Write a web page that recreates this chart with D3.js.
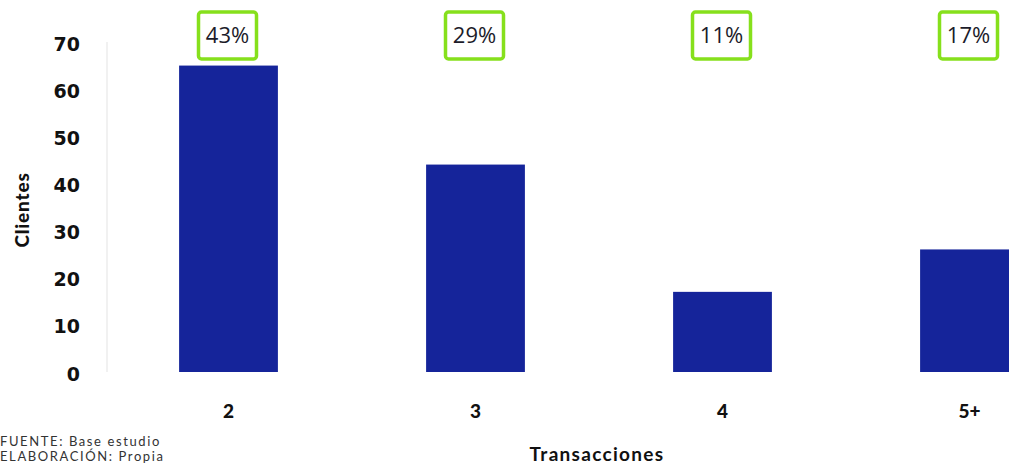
<!DOCTYPE html>
<html>
<head>
<meta charset="utf-8">
<script src="https://cdn.jsdelivr.net/npm/d3@7"></script>
<style>
  html, body { margin: 0; padding: 0; background: #fff; overflow: hidden; }
  svg { display: block; }
</style>
</head>
<body>
<svg id="chart" width="1009" height="464"></svg>
<script>
// Clientes por número de transacciones
const categories = ["2", "3", "4", "5+"];
const clientes = [65, 44, 17, 26];
const shareLabels = ["43%", "29%", "11%", "17%"];
const yTicks = [0, 10, 20, 30, 40, 50, 60, 70];

const svg = d3.select("#chart");

const x = d3.scaleBand()
  .domain(categories)
  .range([105, 1093])
  .paddingInner(0.6)
  .paddingOuter(0.3);

const y = d3.scaleLinear()
  .domain([0, 70])
  .range([372, 42]);

// faint vertical axis line
svg.append("line")
  .attr("x1", 107).attr("x2", 107)
  .attr("y1", y(70)).attr("y2", y(0))
  .attr("stroke", "#f1f1f1")
  .attr("stroke-width", 2);

// y tick labels
const yAxis = d3.axisLeft(y).tickValues(yTicks).tickSize(0).tickPadding(0);
const gy = svg.append("g")
  .attr("transform", "translate(80,2)")
  .call(yAxis);
gy.select(".domain").remove();
gy.selectAll("text")
  .attr("font-family", "DejaVu Sans, sans-serif")
  .attr("font-weight", "bold")
  .attr("font-size", 19)
  .attr("fill", "#111");

// bars
svg.append("g").selectAll("rect")
  .data(categories)
  .join("rect")
  .attr("x", d => x(d))
  .attr("width", x.bandwidth())
  .attr("y", (d, i) => y(clientes[i]))
  .attr("height", (d, i) => y(0) - y(clientes[i]))
  .attr("fill", "#15249a");

// x tick labels
const xAxis = d3.axisBottom(x).tickSize(0).tickPadding(0);
const gx = svg.append("g")
  .attr("transform", "translate(0,418)")
  .call(xAxis);
gx.select(".domain").remove();
gx.selectAll("text")
  .attr("dy", 0)
  .attr("font-family", "Lato, 'Open Sans', sans-serif")
  .attr("font-weight", "900")
  .attr("font-size", 19)
  .attr("fill", "#111");

// share boxes above each bar
const boxes = svg.append("g").selectAll("g")
  .data(categories)
  .join("g")
  .attr("transform", d => `translate(${x(d) + x.bandwidth() / 2 - 1},35)`);
boxes.append("rect")
  .attr("x", -29).attr("y", -23)
  .attr("width", 58).attr("height", 47)
  .attr("rx", 3)
  .attr("fill", "#fff")
  .attr("stroke", "#86e01c")
  .attr("stroke-width", 3.5);
boxes.append("text")
  .attr("text-anchor", "middle")
  .attr("dy", "0.35em")
  .attr("font-family", "'Open Sans', sans-serif")
  .attr("font-size", 22)
  .attr("fill", "#1c1c2a")
  .text((d, i) => shareLabels[i]);

// axis titles
svg.append("text")
  .attr("transform", "translate(29,210) rotate(-90)")
  .attr("text-anchor", "middle")
  .attr("font-family", "Lato, 'Open Sans', sans-serif")
  .attr("font-weight", "900")
  .attr("font-size", 19)
  .attr("letter-spacing", 0.8)
  .attr("fill", "#111")
  .text("Clientes");

svg.append("text")
  .attr("x", 597).attr("y", 461)
  .attr("text-anchor", "middle")
  .attr("font-family", "Lato, 'Open Sans', sans-serif")
  .attr("font-weight", "bold")
  .attr("font-size", 19)
  .attr("letter-spacing", 1.3)
  .attr("fill", "#111")
  .text("Transacciones");

// source notes
const notes = svg.append("g")
  .attr("font-family", "Lato, sans-serif")
  .attr("font-size", 13)
  .attr("letter-spacing", 1.6)
  .attr("fill", "#333");
notes.append("text").attr("x", 0).attr("y", 446).text("FUENTE: Base estudio");
notes.append("text").attr("x", 0).attr("y", 461).text("ELABORACIÓN: Propia");
</script>
</body>
</html>
